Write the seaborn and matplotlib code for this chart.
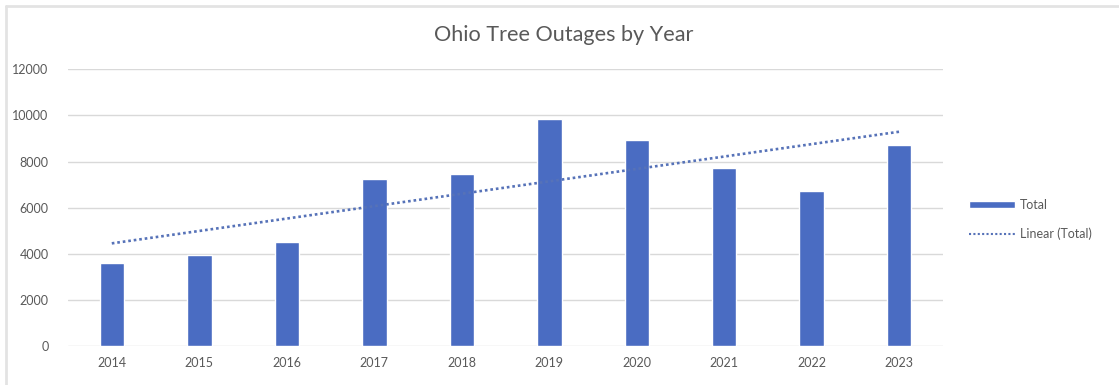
import matplotlib
matplotlib.use("Agg")
import matplotlib.pyplot as plt
import seaborn as sns
import numpy as np
import pandas as pd
from matplotlib.lines import Line2D
from matplotlib.patches import Rectangle

years = ["2014", "2015", "2016", "2017", "2018", "2019", "2020", "2021", "2022", "2023"]
totals = [3610, 3960, 4520, 7240, 7470, 9840, 8920, 7710, 6720, 8730]
yticks = [0, 2000, 4000, 6000, 8000, 10000, 12000]
title = "Ohio Tree Outages by Year"
series_name = "Total"
trend_name = "Linear (Total)"

sns.set_theme(style="white")
plt.rcParams['font.family'] = ['Lato', 'DejaVu Sans']

bar_color = "#4A6CC2"
trend_color = "#5672B8"
text_color = "#595959"

df = pd.DataFrame({"year": years, "total": totals})

fig = plt.figure(figsize=(11.19, 3.85), dpi=100)
ax = fig.add_axes([0.0608, 0.1013, 0.7819, 0.7187])

sns.barplot(data=df, x="year", y="total", color=bar_color, width=0.28,
            saturation=1, ax=ax, zorder=3)

# linear trendline computed from the data
xs = np.arange(len(totals))
coef = np.polyfit(xs, totals, 1)
trend = np.polyval(coef, xs)
ax.plot(xs, trend, color=trend_color, linestyle=(0, (1, 1.1)), linewidth=1.9, zorder=4)

ax.set_ylim(0, 12000)
ax.set_yticks(yticks)
ax.set_yticklabels([str(t) for t in yticks])
ax.set_xlim(-0.5, len(years) - 0.5)
ax.set_xlabel("")
ax.set_ylabel("")
ax.yaxis.grid(True, color="#D9D9D9", linewidth=1)
ax.set_axisbelow(True)
for s in ax.spines.values():
    s.set_visible(False)
ax.tick_params(axis="both", length=0, labelsize=9, colors=text_color, pad=8)
ax.tick_params(axis="y", pad=14)

fig.text(0.5035, 0.908, title, ha="center", va="center", fontsize=15.6, color=text_color)

handles = [Rectangle((0, 0), 1, 1, facecolor=bar_color),
           Line2D([0], [0], color=trend_color, linestyle=(0, (1, 1.1)), linewidth=1.5)]
leg = fig.legend(handles, [series_name, trend_name], loc="center left",
                 bbox_to_anchor=(0.856, 0.43), frameon=False, fontsize=9,
                 labelcolor=text_color, handlelength=3.7, handleheight=0.45,
                 handletextpad=0.35, labelspacing=1.35)

# light chart-area frame (top and left edges)
fig.add_artist(Line2D([0.005, 1.0], [0.985, 0.985], color="#E3E3E3", linewidth=2,
                      transform=fig.transFigure))
fig.add_artist(Line2D([0.0055, 0.0055], [0.0, 0.985], color="#E3E3E3", linewidth=2,
                      transform=fig.transFigure))

fig.savefig("out.png", dpi=100)
